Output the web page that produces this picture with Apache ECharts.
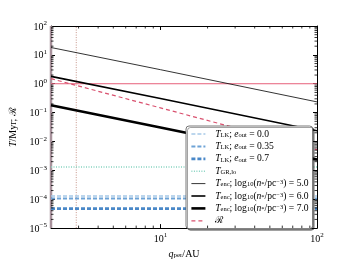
<!DOCTYPE html>
<html>
<head>
<meta charset="utf-8">
<script src="https://cdn.jsdelivr.net/npm/echarts@6/dist/echarts.min.js"></script>
<style>html,body{margin:0;padding:0;background:#fff;}#c{width:352px;height:264px;}</style>
</head>
<body>
<div id="c"></div>
<script>
// ---- data ----
const qRange = [2, 100];
const qPts = [2, 10, 100];
const tEnc5 = [18, 3.07, 0.235];
const tEnc6 = [1.8, 0.307, 0.0235];
const tEnc7 = [0.18, 0.0307, 0.00235];
const ratioR = [1.5, 0.146, 0.0052];
const ratioOne = [1, 1];
const tGRlo = [1.3e-3, 1.3e-3];
const tLK00 = [1.3e-4, 1.3e-4];
const tLK035 = [1.07e-4, 1.07e-4];
const tLK07 = [4.7e-5, 4.7e-5];
const vLineQ = 2.9;
const vBandQ = 2;
const yRange = [1e-5, 1e2];
const xMinorTicks = [3,4,5,6,7,8,9,20,30,40,50,60,70,80,90];
const yMinorTicks = [];
for (let d = -5; d < 2; d++) for (let k = 2; k <= 9; k++) yMinorTicks.push(k * Math.pow(10, d));

const FONT = '"Liberation Serif", "DejaVu Serif", serif';
const pair = (xs, ys) => xs.map((x, i) => [x, ys[i]]);

const expFmt = v => {
  const e = Math.round(Math.log10(v));
  return '{b|10}{s|' + (e < 0 ? '\u2212' + (-e) : e) + '}';
};
const tickRich = {
  b: {fontFamily: FONT, fontSize: 10, color: '#000', lineHeight: 12, verticalAlign: 'bottom'},
  s: {fontFamily: FONT, fontSize: 7, color: '#000', lineHeight: 12, verticalAlign: 'top'}
};

const LF = 9.6;
const legendRich = {
  t: {fontFamily: FONT, fontSize: LF, color: '#000', lineHeight: 9},
  i: {fontFamily: FONT, fontSize: LF, fontStyle: 'italic', color: '#000', lineHeight: 9},
  sub: {fontFamily: FONT, fontSize: 6.5, color: '#000', lineHeight: 9, verticalAlign: 'bottom'},
  sup: {fontFamily: FONT, fontSize: 6.5, color: '#000', lineHeight: 9, verticalAlign: 'top'},
  c: {fontFamily: '"DejaVu Serif", serif', fontSize: LF, color: '#000', lineHeight: 9}
};
const legendText = {
  'LK0': '{t|\u2002}{i|T}{sub|LK}{t|; }{i|e}{sub|out}{t| = 0.0}',
  'LK35': '{t|\u2002}{i|T}{sub|LK}{t|; }{i|e}{sub|out}{t| = 0.35}',
  'LK7': '{t|\u2002}{i|T}{sub|LK}{t|; }{i|e}{sub|out}{t| = 0.7}',
  'GR': '{t|\u2002}{i|T}{sub|GR,lo}',
  'E5': '{t|\u2002}{i|T}{sub|enc}{t|; log}{sub|10}{t|(}{i|n}{sub|*}{t|/pc}{sup|\u22123}{t|) = 5.0}',
  'E6': '{t|\u2002}{i|T}{sub|enc}{t|; log}{sub|10}{t|(}{i|n}{sub|*}{t|/pc}{sup|\u22123}{t|) = 6.0}',
  'E7': '{t|\u2002}{i|T}{sub|enc}{t|; log}{sub|10}{t|(}{i|n}{sub|*}{t|/pc}{sup|\u22123}{t|) = 7.0}',
  'R': '{t|\u2002}{c|\u211B}'
};

const W = {LK0: 1.6, LK35: 2, LK7: 2.8, GR: 1.4, E5: 0.8, E6: 1.6, E7: 2.6, R: 1.2};

const lineSeries = (name, data, color, width, type) => ({
  name, type: 'line', data, symbol: 'none', silent: true, animation: false,
  lineStyle: {color, width, type: type || 'solid'}, itemStyle: {color, opacity: 0}
});

const axisCommon = {
  type: 'log', logBase: 10,
  axisLine: {lineStyle: {color: '#000', width: 1}},
  axisTick: {inside: true, length: 4, lineStyle: {color: '#000', width: 1}},
  splitLine: {show: false}
};

const minorTickSeries = (vals, isX) => ({
  type: 'custom', silent: true, animation: false, clip: false, z: 5,
  data: vals.map(v => isX ? [v, yRange[0]] : [qRange[0], v]),
  renderItem: (params, api) => {
    const v = api.value(isX ? 0 : 1);
    let a, b, shapes;
    if (isX) {
      a = api.coord([v, yRange[0]]); b = api.coord([v, yRange[1]]);
      shapes = [[a[0], a[1], a[0], a[1] - 2.5], [b[0], b[1], b[0], b[1] + 2.5]];
    } else {
      a = api.coord([qRange[0], v]); b = api.coord([qRange[1], v]);
      shapes = [[a[0], a[1], a[0] + 2.5, a[1]], [b[0], b[1], b[0] - 2.5, b[1]]];
    }
    return {type: 'group', children: shapes.map(s => ({
      type: 'line', shape: {x1: s[0], y1: s[1], x2: s[2], y2: s[3]},
      style: {stroke: '#000', lineWidth: 0.8}
    }))};
  }
});

const legendNames = ['LK0', 'LK35', 'LK7', 'GR', 'E5', 'E6', 'E7', 'R'];

const chart = echarts.init(document.getElementById('c'), null, {renderer: 'canvas'});
chart.setOption({
  animation: false,
  backgroundColor: '#fff',
  grid: {left: 44, right: 35, top: 26, bottom: 27},
  xAxis: [
    Object.assign({}, axisCommon, {
      position: 'bottom', min: qRange[0], max: qRange[1],
      axisLabel: {formatter: expFmt, rich: tickRich, showMinLabel: false, margin: 4},
      name: '{i|q}{sub|per}{t|/AU}', nameLocation: 'middle', nameGap: 19,
      nameTextStyle: {rich: {
        t: {fontFamily: FONT, fontSize: 10, color: '#000'},
        i: {fontFamily: FONT, fontSize: 10, fontStyle: 'italic', color: '#000'},
        sub: {fontFamily: FONT, fontSize: 7, color: '#000', verticalAlign: 'bottom'}
      }}
    }),
    Object.assign({}, axisCommon, {
      position: 'top', min: qRange[0], max: qRange[1], axisLabel: {show: false}
    })
  ],
  yAxis: [
    Object.assign({}, axisCommon, {
      position: 'left', min: yRange[0], max: yRange[1],
      axisLabel: {formatter: expFmt, rich: tickRich, margin: 4},
      name: '{i|T}{t|/Myr; }{c|\u211B}', nameLocation: 'middle', nameGap: 33,
      nameTextStyle: {rich: {
        t: {fontFamily: FONT, fontSize: 10, color: '#000'},
        i: {fontFamily: FONT, fontSize: 10, fontStyle: 'italic', color: '#000'},
        c: {fontFamily: '"DejaVu Serif", serif', fontSize: 10, color: '#000'}
      }}
    }),
    Object.assign({}, axisCommon, {
      position: 'right', min: yRange[0], max: yRange[1], axisLabel: {show: false}
    })
  ],
  legend: {
    orient: 'vertical', left: 186, top: 126,
    data: legendNames.map(n => ({name: n, lineStyle: {width: W[n]}})),
    formatter: n => legendText[n],
    textStyle: {rich: legendRich, lineHeight: 9},
    itemWidth: 14, itemHeight: 9, itemGap: 2.4,
    itemStyle: {opacity: 0},
    backgroundColor: '#fff', borderColor: '#555', borderWidth: 0.8, borderRadius: 3,
    padding: [3, 4, 3, 4],
    shadowColor: 'rgba(0,0,0,0.45)', shadowOffsetX: 1.5, shadowOffsetY: 1.5, shadowBlur: 0,
    selectedMode: false
  },
  series: [
    lineSeries('vband', pair([vBandQ, vBandQ], yRange), '#a8929c', 2.5),
    lineSeries('vline', pair([vLineQ, vLineQ], yRange), '#b87a6c', 0.8, [1, 1.5]),
    lineSeries('R1', pair(qRange, ratioOne), '#e6607a', 1),
    lineSeries('LK0', pair(qRange, tLK00), '#a6c9e8', W.LK0, [4, 2]),
    lineSeries('LK35', pair(qRange, tLK035), '#6ea3d6', W.LK35, [4, 2]),
    lineSeries('LK7', pair(qRange, tLK07), '#4a88c8', W.LK7, [4, 2]),
    lineSeries('GR', pair(qRange, tGRlo), '#86d3c0', W.GR, [1, 1.5]),
    lineSeries('E5', pair(qPts, tEnc5), '#000', W.E5),
    lineSeries('E6', pair(qPts, tEnc6), '#000', W.E6),
    lineSeries('E7', pair(qPts, tEnc7), '#000', W.E7),
    lineSeries('R', pair(qPts, ratioR), '#d9506e', W.R, [4, 3]),
    minorTickSeries(xMinorTicks, true),
    minorTickSeries(yMinorTicks, false)
  ]
});
</script>
</body>
</html>
